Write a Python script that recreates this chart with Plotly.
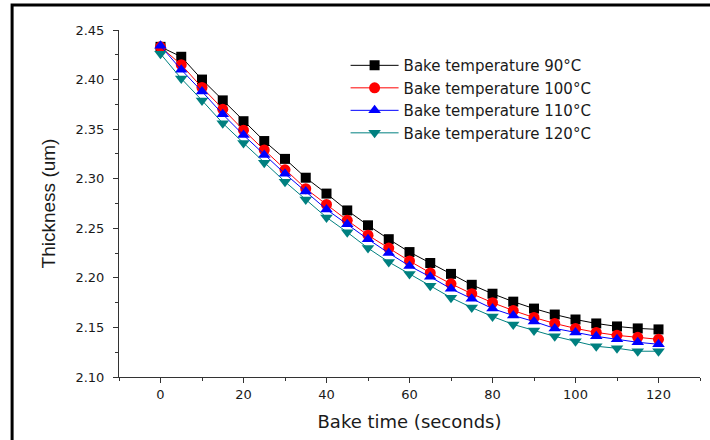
import plotly.graph_objects as go

bake_time = [0, 5, 10, 15, 20, 25, 30, 35, 40, 45, 50, 55, 60, 65, 70, 75, 80, 85, 90, 95, 100, 105, 110, 115, 120]

temp_90 = [2.433, 2.423, 2.400, 2.379, 2.358, 2.338, 2.320, 2.301, 2.285, 2.268, 2.253, 2.239, 2.226,
           2.215, 2.204, 2.193, 2.184, 2.176, 2.169, 2.163, 2.158, 2.154, 2.151, 2.149, 2.148]
temp_100 = [2.433, 2.415, 2.392, 2.370, 2.349, 2.329, 2.309, 2.290, 2.274, 2.258, 2.243, 2.230, 2.217,
            2.205, 2.194, 2.184, 2.175, 2.167, 2.160, 2.154, 2.149, 2.145, 2.142, 2.140, 2.138]
temp_110 = [2.434, 2.410, 2.388, 2.365, 2.344, 2.324, 2.305, 2.287, 2.269, 2.254, 2.239, 2.225, 2.212,
            2.201, 2.189, 2.179, 2.169, 2.162, 2.156, 2.149, 2.145, 2.141, 2.138, 2.135, 2.133]
temp_120 = [2.426, 2.401, 2.379, 2.356, 2.336, 2.316, 2.297, 2.279, 2.261, 2.246, 2.230, 2.216, 2.204,
            2.192, 2.180, 2.170, 2.161, 2.153, 2.147, 2.141, 2.136, 2.131, 2.129, 2.126, 2.126]

series_names = ["Bake temperature 90°C", "Bake temperature 100°C",
                "Bake temperature 110°C", "Bake temperature 120°C"]
series_values = [temp_90, temp_100, temp_110, temp_120]
colors = ["#000000", "#ff0000", "#0000ff", "#008080"]
symbols = ["square", "circle", "triangle-up", "triangle-down"]
sizes = [10, 11, 11, 11]

FONT = "DejaVu Sans, Verdana, sans-serif"
TEXT = "#1a1a1a"

fig = go.Figure()
for name, vals, col, sym, sz in zip(series_names, series_values, colors, symbols, sizes):
    fig.add_trace(go.Scatter(
        x=bake_time, y=vals, name=name, mode="lines+markers",
        line=dict(color=col, width=1),
        marker=dict(symbol=sym, size=sz, color=col, line=dict(width=0)),
    ))

fig.update_layout(
    width=710, height=440,
    margin=dict(l=119, r=10, t=30, b=63),
    paper_bgcolor="white", plot_bgcolor="white",
    font=dict(family=FONT, color=TEXT, size=13),
    showlegend=True,
    legend=dict(
        x=0.39, y=0.945, xanchor="left", yanchor="top",
        bgcolor="rgba(0,0,0,0)", borderwidth=0,
        font=dict(family=FONT, size=15, color=TEXT),
        itemwidth=48, tracegroupgap=0,
    ),
    xaxis=dict(
        range=[-10, 130], dtick=20, tick0=0,
        showline=True, linecolor="#333333", linewidth=1,
        ticks="outside", ticklen=5, tickcolor="#333333",
        minor=dict(dtick=10, ticks="outside", ticklen=3, tickcolor="#333333"),
        showgrid=False, zeroline=False,
        tickfont=dict(size=13),
        title=dict(text="Bake time (seconds)", font=dict(size=18), standoff=14),
    ),
    yaxis=dict(
        range=[2.10, 2.45], dtick=0.05, tick0=2.10, tickformat=".2f",
        showline=True, linecolor="#333333", linewidth=1,
        ticks="outside", ticklen=5, tickcolor="#333333",
        minor=dict(dtick=0.025, ticks="outside", ticklen=3, tickcolor="#333333"),
        showgrid=False, zeroline=False,
        tickfont=dict(size=13), ticklabelstandoff=6,
        title=dict(text="Thickness (um)", font=dict(family="Liberation Sans, Arial, sans-serif", size=19), standoff=14),
    ),
    shapes=[dict(
        type="rect", xref="paper", yref="paper",
        x0=-0.184, x1=1.05, y0=-0.25, y1=1.072,
        line=dict(color="black", width=3), fillcolor="rgba(0,0,0,0)",
        layer="above",
    )],
)

fig.write_html("out.html", config={"displayModeBar": False},
               post_script="document.body.style.margin='0';")
